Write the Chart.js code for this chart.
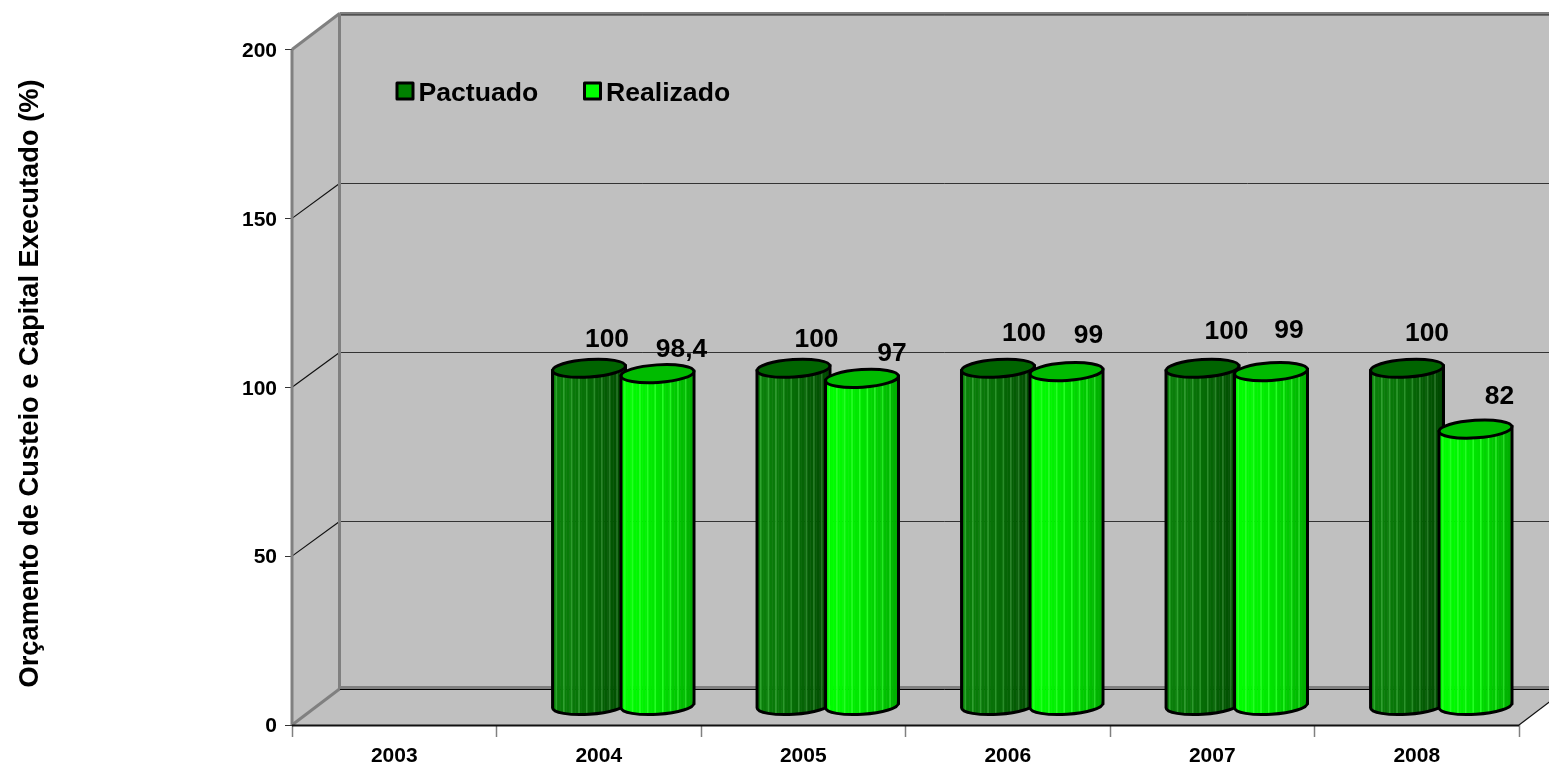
<!DOCTYPE html>
<html>
<head>
<meta charset="utf-8">
<style>
  html, body { margin: 0; padding: 0; background: #fff; }
  canvas { display: block; }
</style>
<script src="https://cdn.jsdelivr.net/npm/chart.js@4"></script>
</head>
<body>
<canvas id="chart" width="1549" height="767"></canvas>
<script>
const categories = ["2003", "2004", "2005", "2006", "2007", "2008"];
const pactuado = [null, 100, 100, 100, 100, 100];
const realizado = [null, 98.4, 97, 99, 99, 82];
const valueTicks = [0, 50, 100, 150, 200];

// where the value labels were hand placed in the original, from the top of each cylinder
const pactuadoLabelOffsets = [null, [18, -29], [23, -29], [26, -35], [24, -37], [20, -35]];
const realizadoLabelOffsets = [null, [24, -24], [30, -25], [22, -36], [18, -41], [24, -32]];

const FONT = '"Liberation Sans", Arial, sans-serif';
const DEPTH_X = 47.5;
const DEPTH_Y = 36;
const WALL = "#c0c0c0";
const EDGE = "#808080";

function line(ctx, x1, y1, x2, y2, color, width) {
  ctx.strokeStyle = color;
  ctx.lineWidth = width;
  ctx.beginPath();
  ctx.moveTo(x1, y1);
  ctx.lineTo(x2, y2);
  ctx.stroke();
}

// Walls and floor
const box3d = {
  id: "box3d",
  beforeDatasetsDraw(chart) {
    const { ctx, scales: { x, y } } = chart;
    const y0 = y.getPixelForValue(0);
    const yTop = y.getPixelForValue(200);
    const l = x.left, r = x.right;
    ctx.save();
    ctx.fillStyle = WALL;
    ctx.beginPath();
    ctx.moveTo(l, y0);
    ctx.lineTo(l, yTop);
    ctx.lineTo(l + DEPTH_X, yTop - DEPTH_Y);
    ctx.lineTo(r + DEPTH_X, yTop - DEPTH_Y);
    ctx.lineTo(r + DEPTH_X, y0 - DEPTH_Y);
    ctx.lineTo(r, y0);
    ctx.closePath();
    ctx.fill();

    valueTicks.slice(1, -1).forEach((v) => {
      const py = y.getPixelForValue(v);
      const back = Math.round(py - DEPTH_Y + 1) + 0.5;
      line(ctx, l, py, l + DEPTH_X, back, "#111", 1.2);
      line(ctx, l + DEPTH_X, back, r + DEPTH_X, back, "#333", 1);
    });

    line(ctx, l + DEPTH_X, y0 - DEPTH_Y - 1.5, r + DEPTH_X, y0 - DEPTH_Y - 1.5, EDGE, 3);
    line(ctx, l + DEPTH_X, y0 - DEPTH_Y + 0.5, r + DEPTH_X, y0 - DEPTH_Y + 0.5, "#000", 1);
    line(ctx, l + DEPTH_X, yTop - DEPTH_Y, r + DEPTH_X, yTop - DEPTH_Y, EDGE, 3);
    line(ctx, l + DEPTH_X, yTop - DEPTH_Y + 1.5, r + DEPTH_X, yTop - DEPTH_Y + 1.5, "#222", 1);
    line(ctx, l + DEPTH_X, yTop - DEPTH_Y, l + DEPTH_X, y0 - DEPTH_Y, EDGE, 3);
    line(ctx, l, yTop, l + DEPTH_X, yTop - DEPTH_Y, EDGE, 3);
    line(ctx, l, y0, l + DEPTH_X, y0 - DEPTH_Y, EDGE, 3);
    line(ctx, l, yTop, l, y0, EDGE, 3);
    line(ctx, r, y0, r + DEPTH_X, y0 - DEPTH_Y, "#111", 1.2);
    line(ctx, l, y0 + 0.5, r, y0 + 0.5, "#111", 2);
    ctx.restore();
  }
};

// Draws a cylinder over each (invisible) bar element
const SHIFT_X = 24.5;
const SHIFT_Y = 19;
const CYL_RX = 36.5;
const CYL_RY = 8.8;
const TILT = -0.065;
const cylinderStyles = [
  { light: [10, 128, 10], dark: [0, 70, 0], top: "#006400" },
  { light: [0, 255, 0], dark: [0, 170, 0], top: "#00bb00" }
];

function sideColor(style, t, i) {
  // bright on the left, falling off to the right, with thin light stripes
  const k = Math.pow(t, 1.6);
  const c = style.light.map((v, n) => Math.round(v + (style.dark[n] - v) * k));
  const lift = i % 5 === 2 ? 36 : 0;
  return `rgb(${c[0] + lift},${Math.min(255, c[1] + lift)},${c[2] + lift})`;
}

function drawCylinder(ctx, cx, top, bottom, style) {
  const dy = Math.sin(TILT) * CYL_RX;
  ctx.save();
  // body
  ctx.beginPath();
  ctx.moveTo(cx - CYL_RX, top - dy);
  ctx.lineTo(cx + CYL_RX, top + dy);
  ctx.lineTo(cx + CYL_RX, bottom + dy);
  ctx.ellipse(cx, bottom, CYL_RX, CYL_RY, TILT, 0, Math.PI);
  ctx.closePath();
  ctx.save();
  ctx.clip();
  const strips = 48;
  const w = (CYL_RX * 2) / strips;
  for (let i = 0; i < strips; i++) {
    ctx.fillStyle = sideColor(style, i / (strips - 1), i);
    ctx.fillRect(cx - CYL_RX + i * w, top - CYL_RY - 5, w + 0.5, bottom - top + CYL_RY * 2 + 10);
  }
  ctx.restore();
  ctx.strokeStyle = "#000";
  ctx.lineWidth = 3;
  ctx.stroke();
  // lid
  ctx.beginPath();
  ctx.ellipse(cx, top, CYL_RX, CYL_RY, TILT, 0, Math.PI * 2);
  ctx.fillStyle = style.top;
  ctx.fill();
  ctx.stroke();
  ctx.restore();
}

const cylinders = {
  id: "cylinders",
  afterDatasetsDraw(chart) {
    const { ctx } = chart;
    chart.data.datasets.forEach((ds, d) => {
      chart.getDatasetMeta(d).data.forEach((bar, i) => {
        if (ds.data[i] === null) return;
        drawCylinder(ctx, bar.x + SHIFT_X, bar.y - SHIFT_Y, bar.base - SHIFT_Y, cylinderStyles[d]);
      });
    });
    // value labels go on top of all the cylinders
    ctx.save();
    ctx.fillStyle = "#000";
    ctx.font = "bold 26.4px " + FONT;
    ctx.textAlign = "center";
    ctx.textBaseline = "middle";
    const offsets = [pactuadoLabelOffsets, realizadoLabelOffsets];
    chart.data.datasets.forEach((ds, d) => {
      chart.getDatasetMeta(d).data.forEach((bar, i) => {
        if (ds.data[i] === null) return;
        const o = offsets[d][i];
        const text = String(ds.data[i]).replace(".", ",");
        ctx.fillText(text, bar.x + SHIFT_X + o[0], bar.y - SHIFT_Y + o[1]);
      });
    });
    ctx.restore();
  }
};

// Legend sits inside the back wall, with the swatch tight against the text
const wallLegend = {
  id: "wallLegend",
  afterDatasetsDraw(chart) {
    const { ctx } = chart;
    const swatchX = [397, 584.5];
    ctx.save();
    ctx.font = "bold 26.6px " + FONT;
    ctx.textBaseline = "middle";
    chart.data.datasets.forEach((ds, d) => {
      ctx.fillStyle = ds.swatch;
      ctx.strokeStyle = "#000";
      ctx.lineWidth = 3;
      ctx.lineJoin = "round";
      ctx.fillRect(swatchX[d], 83, 16, 16);
      ctx.strokeRect(swatchX[d], 83, 16, 16);
      ctx.fillStyle = "#000";
      ctx.fillText(ds.label, swatchX[d] + 21.5, 94);
    });
    ctx.restore();
  }
};

new Chart(document.getElementById("chart"), {
  type: "bar",
  data: {
    labels: categories,
    datasets: [
      { label: "Pactuado", data: pactuado, swatch: "#008000", backgroundColor: "rgba(0,0,0,0)" },
      { label: "Realizado", data: realizado, swatch: "#00ff00", backgroundColor: "rgba(0,0,0,0)" }
    ]
  },
  options: {
    responsive: false,
    animation: false,
    categoryPercentage: 0.67,
    barPercentage: 1,
    layout: { padding: { top: 49.5, right: 30, left: 0, bottom: 0 } },
    plugins: {
      legend: { display: false },
      tooltip: { enabled: false }
    },
    scales: {
      x: {
        afterFit(scale) { scale.height = 42; },
        border: { display: false },
        grid: { drawOnChartArea: false, tickLength: 12, tickColor: "#808080", tickWidth: 1.5 },
        ticks: { color: "#000", padding: 7, maxRotation: 0, font: { family: FONT, size: 21, weight: "bold" } }
      },
      y: {
        min: 0,
        max: 200,
        afterFit(scale) { scale.width = 292; },
        afterBuildTicks(scale) { scale.ticks = valueTicks.map((value) => ({ value })); },
        border: { display: false },
        grid: { drawOnChartArea: false, tickLength: 7, tickColor: "#333" },
        ticks: { color: "#000", padding: 8, labelOffset: 1.5, font: { family: FONT, size: 21, weight: "bold" } },
        title: {
          display: true,
          text: " Orçamento de Custeio e Capital Executado (%)",
          color: "#000",
          padding: { top: 14, bottom: 0 },
          font: { family: FONT, size: 27.3, weight: "bold" }
        }
      }
    }
  },
  plugins: [box3d, cylinders, wallLegend]
});
</script>
</body>
</html>
